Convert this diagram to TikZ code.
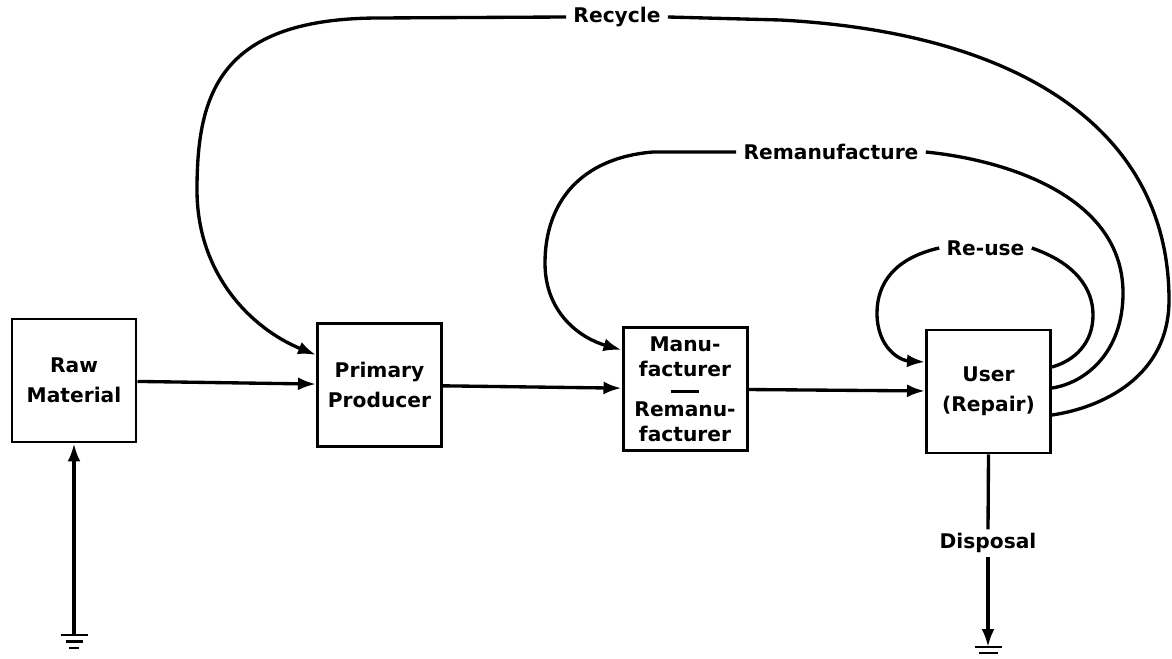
\documentclass[tikz,border=0pt]{standalone}
\usepackage{fontspec}
\setmainfont{DejaVu Sans}
\usetikzlibrary{arrows.meta}

\begin{document}
\begin{tikzpicture}[
    box/.style={draw, line width=1.7pt, minimum width=2.48cm, minimum height=2.46cm, align=center, font=\bfseries\fontsize{11.5}{17}\selectfont},
    lbl/.style={inner xsep=4pt, inner ysep=2pt, font=\bfseries\fontsize{11.5}{14}\selectfont},
    line/.style={line width=1.9pt},
    flow/.style={line width=1.9pt, -{Latex[length=3.6mm,width=2.6mm]}},
    gnd/.style={line width=1.7pt}
  ]
    \useasboundingbox (0,0) rectangle (23.44,13.16);

    % Boxes
    \node[box] (raw) at (1.48,5.55) {Raw\\Material};
    \node[box] (prim) at (7.59,5.46) {Primary\\Producer};
    \node[box, inner sep=1pt, font=\bfseries\fontsize{11.5}{14}\selectfont] (manu) at (13.70,5.38)
      {Manu-\\facturer\\[-2pt]\rule[0.4ex]{0.55cm}{1.8pt}\\[-3pt]Remanu-\\facturer};
    \node[box] (user) at (19.77,5.33) {User\\(Repair)};

    % Loop labels
    \node[lbl] (rec) at (12.34,12.82) {Recycle};
    \node[lbl] (reman) at (16.62,10.12) {Remanufacture};
    \node[lbl] (reuse) at (19.71,8.20) {Re-use};
    \node[lbl] (disp) at (19.76,2.30) {Disposal};

    % Ground points
    \coordinate (gA) at (1.48,0.46);
    \coordinate (gB) at (19.76,0.22);

    % Main flow
    \draw[flow] (gA) -- (raw.south);
    \draw[flow] (raw) -- (prim);
    \draw[flow] (prim) -- (manu);
    \draw[flow] (manu) -- (user);
    \draw[line] (user.south) -- (disp.north);
    \draw[flow] (disp.south) -- (gB);

    % Recycle
    \draw[line] ([yshift=-0.47cm]user.east) .. controls (22.0,5.0) and (23.38,5.6) .. (23.38,7.16)
      .. controls (23.38,10.5) and (20.5,12.5) .. (15.6,12.76) -- (rec.east);
    \draw[flow] (rec.west) -- (7.6,12.8) .. controls (4.4,12.8) and (3.94,11.3) .. (3.94,9.36)
      .. controls (3.94,7.7) and (5.0,6.6) .. ([yshift=0.6cm]prim.west);

    % Remanufacture
    \draw[line] ([yshift=0.07cm]user.east) .. controls (21.7,5.5) and (22.46,6.1) .. (22.46,7.3)
      .. controls (22.46,9.2) and (20.2,9.95) .. (reman.east);
    \draw[flow] (reman.west) -- (13.06,10.12) .. controls (11.6,10.0) and (10.9,9.1) .. (10.9,7.9)
      .. controls (10.9,6.9) and (11.6,6.4) .. ([yshift=0.78cm]manu.west);

    % Re-use
    \draw[line] ([yshift=0.49cm]user.east) .. controls (21.5,5.95) and (21.86,6.3) .. (21.86,6.86)
      .. controls (21.86,7.4) and (21.5,7.9) .. (reuse.east);
    \draw[flow] (reuse.west) .. controls (17.9,8.0) and (17.54,7.5) .. (17.54,6.9)
      .. controls (17.54,6.2) and (18.0,5.95) .. ([yshift=0.59cm]user.west);

    % Ground symbols
    \draw[gnd] ([xshift=-0.27cm]gA) -- ([xshift=0.27cm]gA);
    \draw[gnd] ([xshift=-0.17cm,yshift=-0.13cm]gA) -- ([xshift=0.17cm,yshift=-0.13cm]gA);
    \draw[gnd] ([xshift=-0.1cm,yshift=-0.26cm]gA) -- ([xshift=0.1cm,yshift=-0.26cm]gA);
    \draw[gnd] ([xshift=-0.27cm]gB) -- ([xshift=0.27cm]gB);
    \draw[gnd] ([xshift=-0.19cm,yshift=-0.12cm]gB) -- ([xshift=0.19cm,yshift=-0.12cm]gB);
  \end{tikzpicture}
\end{document}
